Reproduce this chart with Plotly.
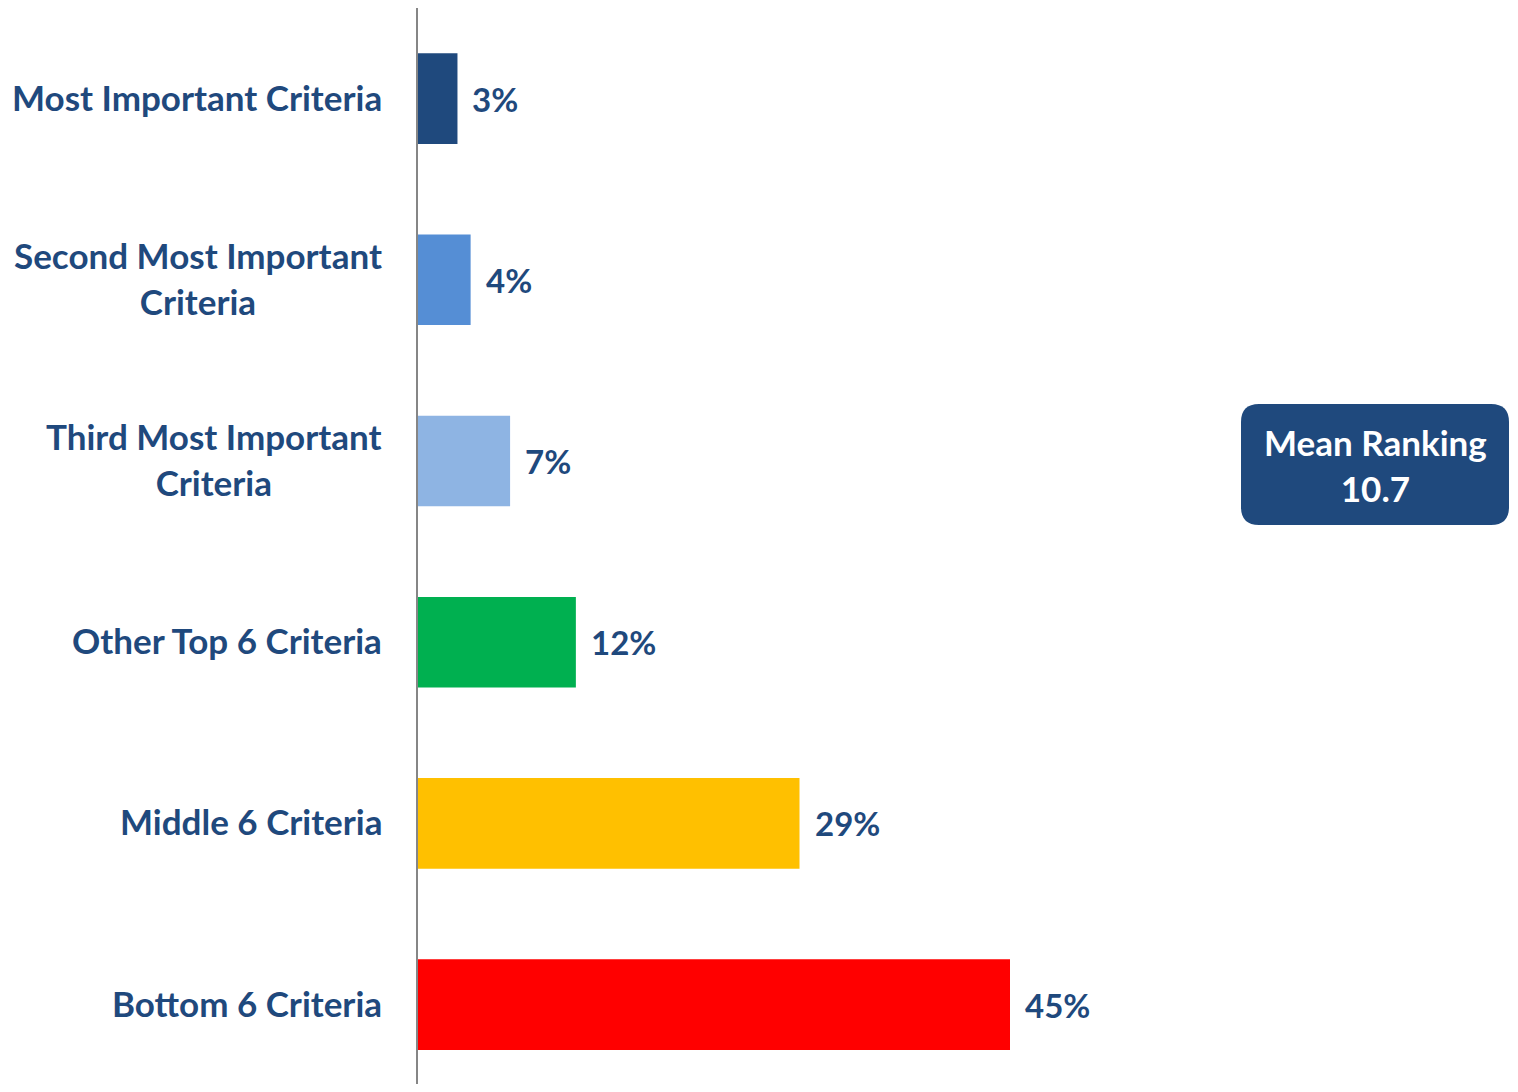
import plotly.graph_objects as go

categories = [
    "Most Important Criteria",
    "Second Most Important<br>Criteria",
    "Third Most Important<br>Criteria",
    "Other Top 6 Criteria",
    "Middle 6 Criteria",
    "Bottom 6 Criteria",
]
values = [3, 4, 7, 12, 29, 45]
value_labels = ["3%", "4%", "7%", "12%", "29%", "45%"]
colors = ["#1F497D", "#558ED5", "#8EB4E3", "#00B050", "#FFC000", "#FF0000"]
box_text = "Mean Ranking<br>10.7"

NAVY = "#1F497D"
FONT = "Lato"

BODY = 8  # default page body margin
W, H = 1518 - 2 * BODY, 1092 - 2 * BODY
ML, MR, MT, MB = 418 - BODY, 0, 0, 0
PW = W - ML - MR
PH = H - MT - MB
PX_PER_UNIT = 592 / 45.0
XMAX = PW / PX_PER_UNIT
CAT_PX = 181.2
YSPAN = PH / CAT_PX

fig = go.Figure()
fig.add_trace(go.Bar(
    y=categories,
    x=values,
    orientation="h",
    marker=dict(color=colors, line=dict(width=0)),
    width=0.5,
    hoverinfo="skip",
))

annotations = []
for c in categories:
    annotations.append(dict(
        x=0, xref="paper", y=c, yref="y",
        text=c, showarrow=False, xanchor="right", yanchor="middle",
        xshift=-34, yshift=2, align="center",
        font=dict(family=FONT, size=35, color=NAVY, weight="bold"),
    ))
for c, v, t in zip(categories, values, value_labels):
    annotations.append(dict(
        x=v, xref="x", y=c, yref="y",
        text=t, showarrow=False, xanchor="left", yanchor="middle",
        xshift=13,
        font=dict(family=FONT, size=33, color=NAVY, weight="bold"),
    ))

# rounded box in paper coords (page pixel positions)
def px_to_paper_x(px):
    return (px - BODY - ML) / PW

def py_to_paper_y(py):
    return (H - MB - (py - BODY)) / PH

x0, x1 = px_to_paper_x(1241), px_to_paper_x(1509)
y0, y1 = py_to_paper_y(525), py_to_paper_y(404)
rx = 18 / PW
ry = 18 / PH
path = (
    f"M {x0+rx},{y0} L {x1-rx},{y0} Q {x1},{y0} {x1},{y0+ry} "
    f"L {x1},{y1-ry} Q {x1},{y1} {x1-rx},{y1} "
    f"L {x0+rx},{y1} Q {x0},{y1} {x0},{y1-ry} "
    f"L {x0},{y0+ry} Q {x0},{y0} {x0+rx},{y0} Z"
)
shapes = [dict(type="path", xref="paper", yref="paper", path=path,
               fillcolor=NAVY, line=dict(width=0), layer="above")]
annotations.append(dict(
    x=(x0 + x1) / 2, xref="paper", y=(y0 + y1) / 2, yref="paper",
    text=box_text, showarrow=False, xanchor="center", yanchor="middle",
    align="center",
    font=dict(family=FONT, size=35, color="white", weight="bold"),
))

fig.update_layout(
    width=W, height=H,
    margin=dict(l=ML, r=MR, t=MT, b=MB),
    plot_bgcolor="white", paper_bgcolor="white",
    showlegend=False,
    xaxis=dict(range=[0, XMAX], visible=False, fixedrange=True),
    yaxis=dict(range=[YSPAN - 0.5, -0.5], showticklabels=False, ticks="",
               showgrid=False, zeroline=False,
               showline=True, linecolor="#868686", linewidth=1.5),
    annotations=annotations,
    shapes=shapes,
)

fig.write_html("out.html")
